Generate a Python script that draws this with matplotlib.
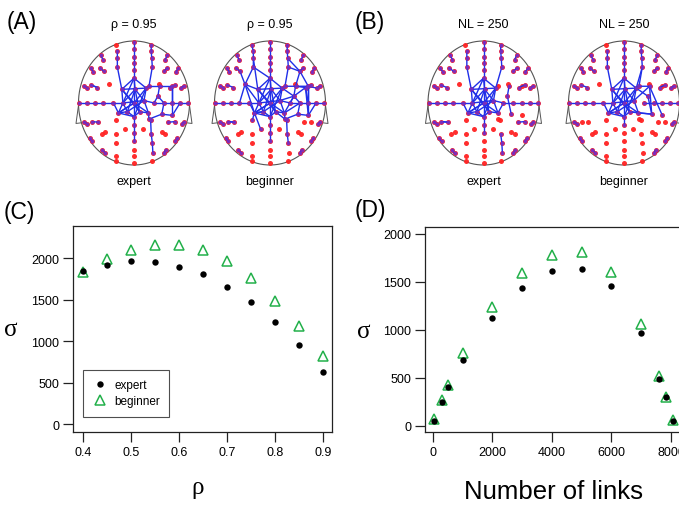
import numpy as np
import matplotlib
matplotlib.use("Agg")
import matplotlib.pyplot as plt
from matplotlib.lines import Line2D

plt.rcParams['font.family'] = ['Liberation Sans', 'DejaVu Sans']

# ---------------- data: panels C and D ----------------
rho = [0.40, 0.45, 0.50, 0.55, 0.60, 0.65, 0.70, 0.75, 0.80, 0.85, 0.90]
sigma_rho_expert = [1843, 1920, 1967, 1956, 1900, 1808, 1650, 1467, 1227, 950, 632]
sigma_rho_beginner = [1840, 1988, 2100, 2160, 2165, 2100, 1964, 1763, 1490, 1185, 825]

links = [50, 300, 500, 1000, 2000, 3000, 4000, 5000, 6000, 7000, 7600, 7820, 8075]
sigma_nl_expert = [50, 250, 399, 679, 1127, 1432, 1612, 1633, 1456, 968, 490, 302, 52]
sigma_nl_beginner = [65, 267, 423, 752, 1237, 1591, 1785, 1813, 1605, 1063, 512, 302, 60]

rho_ticks = [0.4, 0.5, 0.6, 0.7, 0.8, 0.9]
sigma_ticks = [0, 500, 1000, 1500, 2000]
links_ticks = [0, 2000, 4000, 6000, 8000]

# ---------------- data: electrode layout (head-normalised coords) ----------------
electrodes = {
    # midline
    "M0": (0.0, 0.99), "M1": (0.0, 0.87), "M2": (0.0, 0.75), "M3": (0.0, 0.64), "M4": (0.0, 0.53),
    "M9": (0.0, -0.35), "M10": (0.0, -0.48), "M11": (0.0, -0.62), "M12": (0.0, -0.75),
    "M13": (0.0, -0.86), "M14": (0.0, -0.97),
    # horizontal row
    "HL6": (-0.99, 0.0), "HL5": (-0.84, 0.0), "HL4": (-0.70, 0.0), "HL3": (-0.55, 0.0), "HL2": (-0.37, 0.0),
    "HR2": (0.36, 0.0), "HR3": (0.54, 0.0), "HR4": (0.69, 0.0), "HR5": (0.83, 0.0), "HR6": (0.98, 0.0),
    # columns
    "CL0": (-0.33, 0.93), "CL1": (-0.30, 0.84), "CL2": (-0.30, 0.72), "CL3": (-0.30, 0.58),
    "CR0": (0.31, 0.93), "CR1": (0.31, 0.84), "CR2": (0.32, 0.72), "CR3": (0.33, 0.58),
    "CLb1": (-0.32, -0.28), "CLb2": (-0.32, -0.50), "CLb3": (-0.32, -0.64), "CLb4": (-0.32, -0.85), "CLb5": (-0.32, -0.93),
    "CRb1": (0.30, -0.28), "CRb2": (0.31, -0.50), "CRb3": (0.33, -0.64), "CRb4": (0.34, -0.80), "CRb5": (0.32, -0.93),
    # perimeter pairs, left
    "P1La": (-0.60, 0.77), "P1Lb": (-0.56, 0.70), "P2La": (-0.78, 0.56), "P2Lb": (-0.73, 0.50),
    "P3La": (-0.62, 0.57), "P3Lb": (-0.54, 0.51), "P4La": (-0.90, 0.28), "P4Lb": (-0.84, 0.24),
    "P5La": (-0.77, 0.29), "P5Lb": (-0.66, 0.25), "P6La": (-0.90, -0.30), "P6Lb": (-0.84, -0.34),
    "P7La": (-0.76, -0.30), "P7Lb": (-0.64, -0.31), "P8La": (-0.80, -0.57), "P8Lb": (-0.75, -0.62),
    "P9La": (-0.58, -0.50), "P9Lb": (-0.52, -0.46), "P10La": (-0.57, -0.75), "P10Lb": (-0.52, -0.81),
    # perimeter pairs, right
    "P1Ra": (0.60, 0.77), "P1Rb": (0.56, 0.70), "P2Ra": (0.80, 0.56), "P2Rb": (0.75, 0.50),
    "P3Ra": (0.60, 0.57), "P3Rb": (0.54, 0.51), "P4Ra": (0.90, 0.28), "P4Rb": (0.84, 0.24),
    "P5Ra": (0.74, 0.29), "P5Rb": (0.64, 0.25), "P6Ra": (0.90, -0.30), "P6Rb": (0.86, -0.34),
    "P7Ra": (0.74, -0.30), "P7Rb": (0.62, -0.31), "P8Ra": (0.78, -0.57), "P8Rb": (0.74, -0.62),
    "P9Ra": (0.56, -0.50), "P9Rb": (0.50, -0.46), "P10Ra": (0.57, -0.75), "P10Rb": (0.54, -0.81),
    # inner
    "IL1": (-0.45, 0.30), "IR1": (0.45, 0.30), "IL2": (-0.17, -0.42), "IR2": (0.17, -0.42),
    "h0": (0.0, 0.40), "h1": (-0.22, 0.22), "h2": (0.02, 0.22), "h3": (0.22, 0.24),
    "h4": (-0.20, 0.0), "h5": (0.0, 0.0), "h6": (0.18, 0.04), "h7": (-0.12, -0.14),
    "h8": (0.10, -0.14), "h9": (0.26, -0.16), "h10": (0.0, -0.22), "h11": (-0.28, -0.16),
    "R1": (0.27, 0.27), "R2": (0.46, 0.27), "R3": (0.69, 0.27), "R4": (0.43, 0.11),
    "R5": (0.50, -0.18), "R6": (0.69, -0.20), "R7": (0.27, -0.26),
}

pairs_upper = [["P1La", "P1Lb"], ["P2La", "P2Lb"], ["P3La", "P3Lb"], ["P4La", "P4Lb"], ["P5La", "P5Lb"],
               ["P1Ra", "P1Rb"], ["P2Ra", "P2Rb"], ["P3Ra", "P3Rb"], ["P4Ra", "P4Rb"], ["P5Ra", "P5Rb"]]
pairs_lower = [["P6La", "P6Lb"], ["P7La", "P7Lb"], ["P8La", "P8Lb"], ["P10La", "P10Lb"],
               ["P6Ra", "P6Rb"], ["P8Ra", "P8Rb"], ["P10Ra", "P10Rb"]]

hub_core = [["h0", "h1", "h4", "h7", "h10", "h8", "h9", "h6", "h3", "h0"],
            ["h0", "h5", "h10"], ["h1", "h5", "h9"], ["h3", "h5", "h11"], ["h4", "h6"], ["h2", "h7"],
            ["h2", "h8"], ["h1", "h3"], ["h0", "h2", "h6"], ["h11", "h5", "h8"], ["h4", "h2"],
            ["h7", "h6"], ["h1", "h8"], ["h3", "h10"], ["h11", "h0"], ["h11", "h7"], ["h11", "h10"]]

chains_A_expert = hub_core + pairs_upper + pairs_lower + [
    ["M0", "M1", "M2", "M3", "M4", "h0"], ["CL1", "CL2", "CL3", "h1"], ["CR0", "CR1", "CR2", "CR3", "R1"],
    ["HL6", "HL5", "HL4", "HL3", "HL2", "h4"], ["HL2", "h11"], ["HR2", "HR3", "HR4", "HR5", "HR6"],
    ["R1", "R2", "R3"], ["R1", "h3"], ["R2", "R4", "HR2"], ["R3", "HR4"], ["R4", "HR3", "R5"],
    ["R5", "R6", "HR5"], ["R3", "R6"], ["h6", "HR2"], ["h9", "R7", "R5"], ["R7", "CRb1", "CRb2", "CRb3", "CRb4"],
    ["h10", "M9", "M10", "M11"], ["P7Ra", "P7Rb"], ["P5La", "P5Lb"]]

chains_A_beginner = hub_core + pairs_upper + pairs_lower + [
    ["M0", "M1", "M2", "M3", "M4", "h0"], ["CL0", "CL1", "CL2", "CL3", "IL1", "h1"], ["CR0", "CR1", "CR2", "CR3", "R1"],
    ["HL6", "HL5", "HL4", "HL3", "HL2", "h4"], ["HL2", "h11"], ["HR2", "HR3", "HR4", "HR5", "HR6"],
    ["P3Lb", "IL1", "HL3"], ["CL3", "h0"], ["IL1", "h11", "IL2"], ["IL1", "h4"], ["h1", "CL2"],
    ["R1", "R2", "R3", "P4Rb"], ["R1", "h3"], ["R2", "R4", "HR2"], ["R3", "HR4"], ["R4", "HR3", "R5"],
    ["R5", "R6", "HR5"], ["R3", "R6"], ["h6", "HR2"], ["h9", "R7", "R5"], ["CR3", "P3Rb", "R2"],
    ["P3Rb", "R3"], ["CR2", "P3Rb"], ["R2", "P5Rb", "R6"], ["P5Rb", "HR4"], ["R4", "P5Rb"], ["h3", "R4"],
    ["R7", "CRb1", "CRb2", "CRb3"], ["h10", "M9", "M10", "M11"], ["h8", "R7", "CRb1"], ["h9", "HR3"],
    ["h6", "R4"], ["h9", "R4"], ["CLb1", "h11", "h7"], ["P7La", "P7Lb"]]

chains_B_expert = hub_core + pairs_upper + pairs_lower + [
    ["M0", "M1", "M2", "M3", "M4", "h0"], ["CL1", "CL2", "CL3", "h1"], ["CR0", "CR1", "CR2", "CR3", "h3"],
    ["HL6", "HL5", "HL4", "HL3", "HL2", "h4"], ["HL2", "h11"], ["HR2", "HR3", "HR4", "HR5", "HR6"],
    ["h9", "HR2"], ["h6", "HR2"], ["R4", "R5"], ["R2", "R4"], ["h10", "M9", "M10"],
    ["CRb2", "CRb3", "CRb4"], ["P7La", "P7Lb"], ["P7Ra", "P7Rb"]]

chains_B_beginner = hub_core + pairs_upper + [["P6La", "P6Lb"], ["P8La", "P8Lb"], ["P10La", "P10Lb"],
                                              ["P6Ra", "P6Rb"], ["P8Ra", "P8Rb"], ["P10Ra", "P10Rb"]] + [
    ["M0", "M1", "M2", "M3", "M4", "h0"], ["CL1", "CL2", "CL3", "h1"], ["CR0", "CR1", "CR2", "CR3", "h3"],
    ["HL6", "HL5", "HL4", "HL3", "HL2", "h4"], ["HL2", "h11"], ["HR2", "HR3", "HR4", "HR5", "HR6"],
    ["h3", "R1", "R2", "R5"], ["R2", "R6"], ["h9", "R5"], ["h8", "R5"], ["h6", "R2"], ["h10", "M9"],
    ["CR3", "R1"], ["h3", "R4"], ["R4", "R5"]]

heads = [
    # (centre x px, chains, top label, bottom label)
    (134, chains_A_expert, "ρ = 0.95", "expert"),
    (270, chains_A_beginner, "ρ = 0.95", "beginner"),
    (483.5, chains_B_expert, "NL = 250", "expert"),
    (624, chains_B_beginner, "NL = 250", "beginner"),
]

W, H = 679, 506
fig = plt.figure(figsize=(W / 100, H / 100), dpi=100)


def px_axes(left, top, width, height):
    return fig.add_axes([left / W, 1 - (top + height) / H, width / W, height / H])


RX, RY, CY = 55.5, 62.0, 104.0
PADF = 1.15
for cx, chains, top_lbl, bot_lbl in heads:
    ax = px_axes(cx - RX * PADF, CY - RY * PADF, 2 * RX * PADF, 2 * RY * PADF)
    ax.set_xlim(-PADF, PADF)
    ax.set_ylim(-PADF, PADF)
    ax.axis("off")
    t = np.linspace(0, 2 * np.pi, 300)
    ax.plot(np.cos(t), np.sin(t), color="#555555", lw=0.8)
    for s in (-1, 1):
        ax.plot([s * 0.99, s * 1.045, s * 0.955], [0.03, -0.33, -0.32], color="#555555", lw=0.7)
    names = list(electrodes.keys())
    us = np.array([electrodes[n][0] for n in names])
    vs = np.array([electrodes[n][1] for n in names])
    ax.plot(us, vs, "o", ms=3.6, color="#ff2222", mec="none", alpha=0.95)
    used = set()
    for ch in chains:
        pu = [electrodes[n][0] for n in ch]
        pv = [electrodes[n][1] for n in ch]
        ax.plot(pu, pv, color="#1f2ee8", lw=1.0, solid_capstyle="round")
        used.update(ch)
    un = sorted(used)
    ax.plot([electrodes[n][0] for n in un], [electrodes[n][1] for n in un], "o", ms=2.8,
            color="#7a2cc0", mec="none", alpha=0.9)
    fig.text(cx / W, 1 - 25 / H, top_lbl, ha="center", va="center", fontsize=9)
    fig.text(cx / W, 1 - 182 / H, bot_lbl, ha="center", va="center", fontsize=9)

for lbl, x, y in [("(A)", 7, 22), ("(B)", 355, 22), ("(C)", 4, 213), ("(D)", 355, 210)]:
    fig.text(x / W, 1 - y / H, lbl, ha="left", va="center", fontsize=16.5)

green = "#22b04a"


def style_axes(ax):
    for sp in ax.spines.values():
        sp.set_linewidth(0.9)
        sp.set_color("#222222")
    ax.tick_params(direction="out", length=7, width=0.9, labelsize=9, pad=3, color="#222222")


# ---------------- panel C ----------------
axC = px_axes(73, 226.7, 259, 206.6)
axC.plot(rho, sigma_rho_beginner, "^", ms=6.5, mfc="none", mec=green, mew=1.1, label="beginner", zorder=3)
axC.plot(rho, sigma_rho_expert, "o", ms=4.6, color="black", mec="none", label="expert", zorder=4)
axC.set_xlim(0.3798, 0.9194)
axC.set_ylim(-100, 2393)
axC.set_xticks(rho_ticks)
axC.set_xticklabels([f"{v:.1f}" for v in rho_ticks])
axC.set_yticks(sigma_ticks)
style_axes(axC)
handles = [Line2D([], [], ls="none", marker="o", ms=4.6, color="black", mec="none"),
           Line2D([], [], ls="none", marker="^", ms=6.5, mfc="none", mec=green, mew=1.1)]
leg = axC.legend(handles, ["expert", "beginner"], loc="lower left", bbox_to_anchor=(0.04, 0.076),
                 borderaxespad=0, fancybox=False, edgecolor="#222222", fontsize=8.5,
                 handlelength=1.2, handletextpad=0.6, borderpad=0.8, labelspacing=0.35)
leg.get_frame().set_linewidth(0.8)
fig.text(11 / W, 1 - 330 / H, "σ", ha="center", va="center", fontsize=18, family="Liberation Serif")
fig.text(198 / W, 1 - 488 / H, "ρ", ha="center", va="center", fontsize=18, family="Liberation Serif")

# ---------------- panel D ----------------
axD = px_axes(425, 227.7, 280, 205.6)
axD.plot(links, sigma_nl_beginner, "^", ms=6.5, mfc="none", mec=green, mew=1.1, zorder=3)
axD.plot(links, sigma_nl_expert, "o", ms=4.6, color="black", mec="none", zorder=4)
axD.set_xlim(-262, 8000 + (705 - 671) / 0.02978)
axD.set_ylim(-71, 2076)
axD.set_xticks(links_ticks)
axD.set_yticks(sigma_ticks)
style_axes(axD)
fig.text(364 / W, 1 - 332 / H, "σ", ha="center", va="center", fontsize=18, family="Liberation Serif")
fig.text(553 / W, 1 - 492 / H, "Number of links", ha="center", va="center", fontsize=18.5)

fig.savefig("out.png", dpi=100)
